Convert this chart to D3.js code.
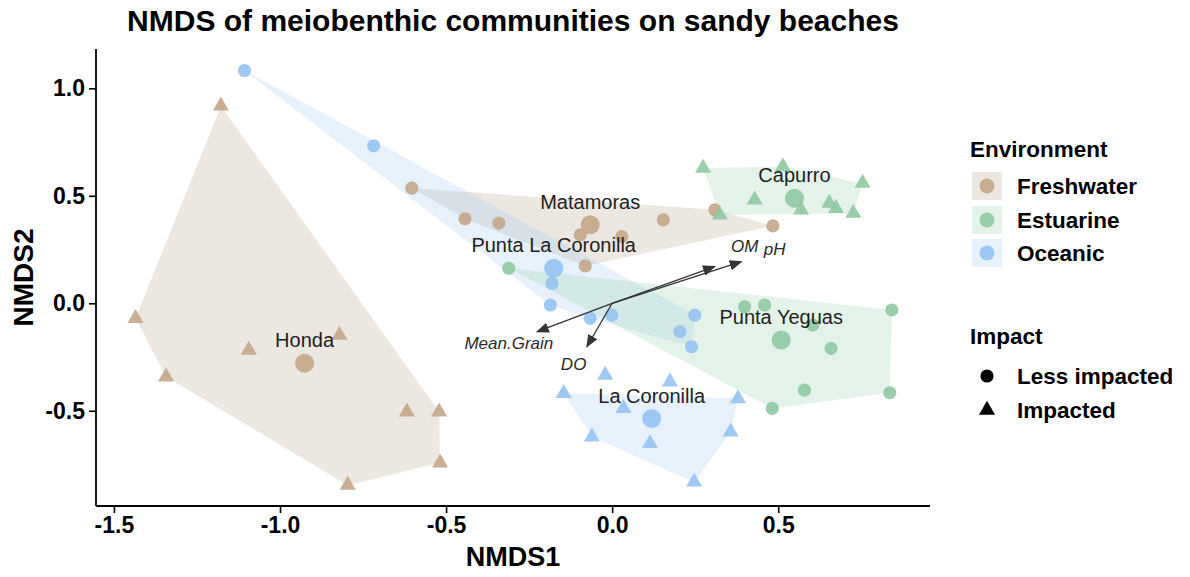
<!DOCTYPE html>
<html>
<head>
<meta charset="utf-8">
<script src="https://cdn.jsdelivr.net/npm/d3@7"></script>
<style>
  html, body { margin: 0; padding: 0; background: #fff; }
  svg { display: block; font-family: "Liberation Sans", Arial, sans-serif; }
</style>
</head>
<body>
<svg id="chart" width="1190" height="577"></svg>
<script>
// ---------------- data ----------------
const sites      = ["Honda", "Matamoras", "Punta La Coronilla", "Capurro", "Punta Yeguas", "La Coronilla"];
const siteEnv    = ["Freshwater", "Freshwater", "Oceanic", "Estuarine", "Estuarine", "Oceanic"];
const siteImpact = ["Impacted", "Less impacted", "Less impacted", "Impacted", "Less impacted", "Impacted"];
const centroidX  = [-0.926, -0.066, -0.176, 0.549, 0.509, 0.119];
const centroidY  = [-0.279, 0.365, 0.163, 0.489, -0.171, -0.536];

// samples (site index, NMDS1, NMDS2, part of hull)
const sampleSite = [
  0,0,0,0,0,0,0,0,0,
  1,1,1,1,1,1,1,1,1,
  2,2,2,2,2,2,2,2,2,
  3,3,3,3,3,3,3,3,3,
  4,4,4,4,4,4,4,4,4,
  5,5,5,5,5,5,5,5,5
];
const sampleX = [
  -1.178, -1.435, -1.343, -1.094, -0.821, -0.618, -0.521, -0.518, -0.796,
  -0.603, -0.443, -0.341, -0.096, 0.029, 0.154, 0.309, 0.484, -0.081,
  -1.107, -0.718, -0.181, -0.186, -0.066, -0.001, 0.249, 0.204, 0.239,
  0.274, 0.514, 0.754, 0.429, 0.569, 0.654, 0.674, 0.726, 0.324,
  -0.311, 0.399, 0.459, 0.604, 0.659, 0.842, 0.579, 0.836, 0.482,
  -0.021, -0.146, 0.174, 0.379, 0.034, -0.061, 0.114, 0.357, 0.247
];
const sampleY = [
  0.918, -0.070, -0.342, -0.218, -0.148, -0.505, -0.505, -0.742, -0.846,
  0.536, 0.393, 0.373, 0.318, 0.310, 0.388, 0.435, 0.360, 0.174,
  1.083, 0.733, 0.093, -0.008, -0.070, -0.055, -0.055, -0.132, -0.202,
  0.629, 0.636, 0.559, 0.481, 0.435, 0.466, 0.442, 0.419, 0.411,
  0.163, -0.016, -0.008, -0.101, -0.210, -0.031, -0.404, -0.416, -0.489,
  -0.334, -0.419, -0.365, -0.443, -0.489, -0.621, -0.652, -0.598, -0.831
];
const sampleInHull = [
  1,1,1,1,1,1,1,1,1,
  1,1,1,1,1,1,1,1,1,
  1,1,1,1,1,1,1,1,1,
  1,1,1,1,1,1,1,1,1,
  1,1,1,1,1,1,1,1,1,
  0,1,0,1,1,1,1,1,1
];

// environmental vectors
const vecNames  = ["OM", "pH", "Mean.Grain", "DO"];
const vecX      = [0.309, 0.389, -0.226, -0.076];
const vecY      = [0.171, 0.194, -0.132, -0.202];
const vecLabelX = [0.399, 0.489, -0.311, -0.116];
const vecLabelY = [0.262, 0.248, -0.186, -0.287];

const envLevels    = ["Freshwater", "Estuarine", "Oceanic"];
const envPoint     = ["#C4A688", "#8FC9A2", "#95C3F2"];
const envHull      = ["#B9A895", "#9ED3B2", "#A6CDF6"];
const impactLevels = ["Less impacted", "Impacted"];

const xTicks = [-1.5, -1.0, -0.5, 0.0, 0.5];
const yTicks = [-0.5, 0.0, 0.5, 1.0];

const chartTitle = "NMDS of meiobenthic communities on sandy beaches";
const xTitle = "NMDS1", yTitle = "NMDS2";

// ---------------- layout ----------------
const panel = { left: 96, right: 930, top: 49, bottom: 506 };
const x = d3.scaleLinear().domain([-1.554, 0.957]).range([panel.left, panel.right]);
const y = d3.scaleLinear().domain([-0.943, 1.183]).range([panel.bottom, panel.top]);
const envColor = d3.scaleOrdinal().domain(envLevels).range(envPoint);
const hullColor = d3.scaleOrdinal().domain(envLevels).range(envHull);

const svg = d3.select("#chart");
const FONT = '"Liberation Sans", Arial, sans-serif';

const samples = sampleX.map((v, i) => ({
  site: sampleSite[i], x: v, y: sampleY[i], hull: sampleInHull[i] === 1,
  env: siteEnv[sampleSite[i]], impact: siteImpact[sampleSite[i]]
}));

// hulls
const gHull = svg.append("g");
sites.forEach((s, si) => {
  const pts = samples.filter(d => d.site === si && d.hull).map(d => [x(d.x), y(d.y)]);
  const hull = d3.polygonHull(pts);
  if (hull) {
    gHull.append("path")
      .attr("d", "M" + hull.map(p => p.join(",")).join("L") + "Z")
      .attr("fill", hullColor(siteEnv[si]))
      .attr("fill-opacity", 0.28)
      .attr("stroke", "none");
  }
});

// points
const circleSym = d3.symbol().type(d3.symbolCircle);
const triSym = d3.symbol().type(d3.symbolTriangle);
const gPts = svg.append("g");
gPts.selectAll("path.pt").data(samples).join("path")
  .attr("class", "pt")
  .attr("transform", d => `translate(${x(d.x)},${y(d.y)})`)
  .attr("d", d => d.impact === "Impacted" ? triSym.size(112)() : circleSym.size(136)())
  .attr("fill", d => envColor(d.env))
  .attr("fill-opacity", 0.9);

// centroids
gPts.selectAll("circle.cen").data(sites).join("circle")
  .attr("class", "cen")
  .attr("cx", (d, i) => x(centroidX[i]))
  .attr("cy", (d, i) => y(centroidY[i]))
  .attr("r", 9.5)
  .attr("fill", (d, i) => envColor(siteEnv[i]))
  .attr("fill-opacity", 0.9);

// vectors
const defs = svg.append("defs");
defs.append("marker").attr("id", "arrow")
  .attr("viewBox", "0 0 10 10").attr("refX", 9).attr("refY", 5)
  .attr("markerWidth", 13).attr("markerHeight", 13).attr("markerUnits", "userSpaceOnUse")
  .attr("orient", "auto")
  .append("path").attr("d", "M0,1 L10,5 L0,9 Z").attr("fill", "#333");

const gVec = svg.append("g");
vecNames.forEach((n, i) => {
  gVec.append("line")
    .attr("x1", x(0)).attr("y1", y(0))
    .attr("x2", x(vecX[i])).attr("y2", y(vecY[i]))
    .attr("stroke", "#333").attr("stroke-width", 1.3)
    .attr("marker-end", "url(#arrow)");
  gVec.append("text")
    .attr("x", x(vecLabelX[i])).attr("y", y(vecLabelY[i]))
    .attr("text-anchor", "middle").attr("dominant-baseline", "central")
    .attr("font-style", "italic").attr("font-size", 17)
    .attr("fill", "#2a2a2a").text(n);
});

// site labels
svg.append("g").selectAll("text").data(sites).join("text")
  .attr("x", (d, i) => x(centroidX[i]))
  .attr("y", (d, i) => y(centroidY[i]) - 16)
  .attr("text-anchor", "middle")
  .attr("font-size", 20).attr("fill", "#1e1e1e")
  .text(d => d);

// axes
const fmt = d => d.toFixed(1);
const gx = svg.append("g").attr("transform", `translate(0,${panel.bottom})`)
  .call(d3.axisBottom(x).tickValues(xTicks).tickFormat(fmt).tickSize(7).tickPadding(4));
const gy = svg.append("g").attr("transform", `translate(${panel.left},0)`)
  .call(d3.axisLeft(y).tickValues(yTicks).tickFormat(fmt).tickSize(7).tickPadding(4));
[gx, gy].forEach(g => {
  g.select(".domain").attr("stroke", "#000").attr("stroke-width", 1.8);
  g.selectAll(".tick line").attr("stroke", "#000").attr("stroke-width", 1.6);
  g.selectAll(".tick text").attr("fill", "#000").attr("font-size", 23)
    .attr("font-weight", "bold").attr("font-family", FONT);
});
gx.select(".domain").attr("d", `M${panel.left},0H${panel.right}`);
gy.select(".domain").attr("d", `M0,${panel.top}V${panel.bottom}`);

// titles
svg.append("text").attr("x", (panel.left + panel.right) / 2).attr("y", 31)
  .attr("text-anchor", "middle").attr("font-size", 30).attr("font-weight", "bold")
  .attr("fill", "#000").text(chartTitle);
svg.append("text").attr("x", (panel.left + panel.right) / 2).attr("y", 566)
  .attr("text-anchor", "middle").attr("font-size", 27).attr("font-weight", "bold")
  .attr("fill", "#000").text(xTitle);
svg.append("text").attr("transform", `translate(33,${(panel.top + panel.bottom) / 2}) rotate(-90)`)
  .attr("text-anchor", "middle").attr("font-size", 28).attr("font-weight", "bold")
  .attr("fill", "#000").text(yTitle);

// legend
const lg = svg.append("g");
lg.append("text").attr("x", 970).attr("y", 157).attr("font-size", 22.5).attr("font-weight", "bold")
  .attr("fill", "#000").text("Environment");
const envRowY = [186, 220, 253];
envLevels.forEach((e, i) => {
  lg.append("rect").attr("x", 972).attr("y", envRowY[i] - 14).attr("width", 30).attr("height", 28)
    .attr("fill", hullColor(e)).attr("fill-opacity", 0.28);
  lg.append("circle").attr("cx", 987).attr("cy", envRowY[i]).attr("r", 7.5)
    .attr("fill", envColor(e)).attr("fill-opacity", 0.9);
  lg.append("text").attr("x", 1017).attr("y", envRowY[i] + 8).attr("font-size", 22.5)
    .attr("font-weight", "bold").attr("fill", "#000").text(e);
});
lg.append("text").attr("x", 970).attr("y", 344).attr("font-size", 22.5).attr("font-weight", "bold")
  .attr("fill", "#000").text("Impact");
const impRowY = [376, 410];
impactLevels.forEach((m, i) => {
  lg.append("path").attr("transform", `translate(987,${impRowY[i]})`)
    .attr("d", m === "Impacted" ? triSym.size(112)() : circleSym.size(136)())
    .attr("fill", "#000");
  lg.append("text").attr("x", 1017).attr("y", impRowY[i] + 8).attr("font-size", 22.5)
    .attr("font-weight", "bold").attr("fill", "#000").text(m);
});
</script>
</body>
</html>
